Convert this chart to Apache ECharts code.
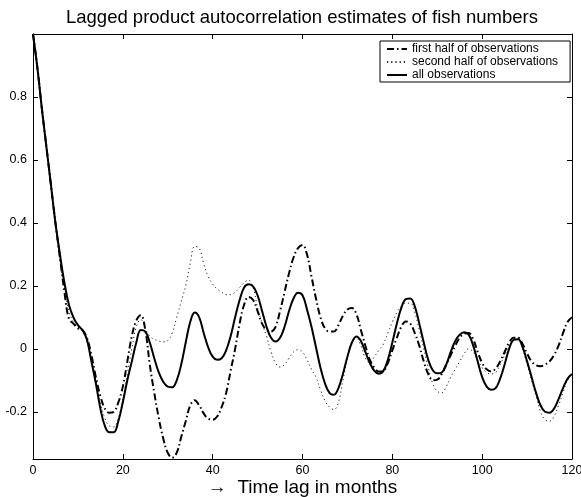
<!DOCTYPE html>
<html>
<head>
<meta charset="utf-8">
<script src="https://cdn.jsdelivr.net/npm/echarts@6/dist/echarts.min.js"></script>
<style>
html,body{margin:0;padding:0;background:#fff;}
#chart{width:581px;height:497px;}
</style>
</head>
<body>
<div id="chart"></div>
<script>
// Lag in months (sampling grid 0..120)
var lags = [];
for (var i = 0; i <= 120; i++) lags.push(i);

var titleText = 'Lagged product autocorrelation estimates of fish numbers';
var xName = '\u2192  Time lag in months';
var seriesNames = ['first half of observations', 'second half of observations', 'all observations'];
var xTicks = [0, 20, 40, 60, 80, 100, 120];
var yTicks = [-0.2, 0, 0.2, 0.4, 0.6, 0.8];

var firstHalf = [
 1.0, 0.89, 0.76, 0.64, 0.52, 0.40, 0.29, 0.18, 0.095, 0.08,
 0.065, 0.06, 0.035, -0.02, -0.09, -0.15, -0.19, -0.203, -0.2, -0.17,
 -0.12, -0.04, 0.04, 0.09, 0.107, 0.06, -0.05, -0.14, -0.22, -0.285,
 -0.33, -0.346, -0.33, -0.28, -0.23, -0.18, -0.163, -0.18, -0.205, -0.222,
 -0.225, -0.215, -0.185, -0.14, -0.07, 0.0, 0.08, 0.14, 0.165, 0.155,
 0.12, 0.08, 0.06, 0.055, 0.07, 0.12, 0.18, 0.24, 0.29, 0.32,
 0.33, 0.30, 0.23, 0.16, 0.10, 0.065, 0.055, 0.055, 0.075, 0.105,
 0.125, 0.13, 0.11, 0.06, 0.01, -0.035, -0.06, -0.072, -0.07, -0.045,
 -0.005, 0.035, 0.07, 0.087, 0.08, 0.05, 0.01, -0.04, -0.08, -0.10,
 -0.098, -0.08, -0.05, -0.02, 0.01, 0.035, 0.048, 0.05, 0.03, -0.01,
 -0.045, -0.065, -0.072, -0.063, -0.04, -0.01, 0.02, 0.035, 0.035, 0.015,
 -0.015, -0.04, -0.052, -0.055, -0.05, -0.04, -0.02, 0.01, 0.05, 0.085,
 0.10
];

var secondHalf = [
 1.0, 0.88, 0.75, 0.63, 0.51, 0.39, 0.28, 0.19, 0.12, 0.085,
 0.07, 0.055, 0.025, -0.035, -0.10, -0.17, -0.22, -0.245, -0.248, -0.22,
 -0.16, -0.08, 0.0, 0.07, 0.093, 0.065, 0.04, 0.03, 0.025, 0.022,
 0.026, 0.05, 0.10, 0.15, 0.20, 0.27, 0.325, 0.32, 0.27, 0.23,
 0.205, 0.19, 0.18, 0.172, 0.172, 0.18, 0.195, 0.21, 0.218, 0.195,
 0.13, 0.08, 0.04, -0.01, -0.045, -0.058, -0.05, -0.03, -0.01, -0.003,
 -0.01, -0.035, -0.065, -0.09, -0.13, -0.165, -0.185, -0.193, -0.17, -0.10,
 -0.03, 0.02, 0.033, 0.01, -0.03, -0.045, -0.025, -0.005, 0.015, 0.05,
 0.085, 0.115, 0.135, 0.145, 0.145, 0.115, 0.06, 0.0, -0.06, -0.11,
 -0.135, -0.14, -0.12, -0.09, -0.065, -0.04, -0.015, 0.0, -0.01, -0.035,
 -0.06, -0.075, -0.08, -0.075, -0.05, -0.02, 0.01, 0.03, 0.035, 0.0,
 -0.05, -0.10, -0.15, -0.20, -0.225, -0.23, -0.215, -0.18, -0.14, -0.10,
 -0.09
];

var allObs = [
 1.0, 0.89, 0.76, 0.64, 0.52, 0.40, 0.30, 0.21, 0.14, 0.10,
 0.075, 0.06, 0.03, -0.04, -0.11, -0.19, -0.245, -0.265, -0.265, -0.23,
 -0.17, -0.10, -0.04, 0.02, 0.06, 0.055, 0.02, -0.03, -0.075, -0.105,
 -0.12, -0.122, -0.10, -0.05, 0.02, 0.085, 0.115, 0.10, 0.05, 0.005,
 -0.025, -0.035, -0.03, -0.005, 0.04, 0.10, 0.155, 0.195, 0.205, 0.198,
 0.17, 0.12, 0.07, 0.035, 0.023, 0.035, 0.07, 0.12, 0.16, 0.178,
 0.17, 0.125, 0.07, 0.005, -0.06, -0.11, -0.14, -0.146, -0.125, -0.08,
 -0.025, 0.02, 0.039, 0.025, -0.01, -0.045, -0.07, -0.079, -0.07, -0.035,
 0.02, 0.08, 0.13, 0.158, 0.16, 0.135, 0.08, 0.02, -0.035, -0.068,
 -0.078, -0.075, -0.05, -0.01, 0.025, 0.045, 0.053, 0.045, 0.01, -0.04,
 -0.09, -0.12, -0.13, -0.125, -0.095, -0.05, 0.0, 0.028, 0.03, 0.005,
 -0.04, -0.09, -0.14, -0.18, -0.20, -0.203, -0.19, -0.16, -0.125, -0.095,
 -0.08
];

function pairs(vals) {
  return lags.map(function (l, i) { return [l, vals[i]]; });
}

var FONT = '"Liberation Sans", Arial, Helvetica, sans-serif';
var chart = echarts.init(document.getElementById('chart'), null, {renderer: 'canvas'});

var axisLineStyle = {show: true, onZero: false, lineStyle: {color: '#000', width: 1}};
var tickStyle = {show: true, inside: true, length: 5, lineStyle: {color: '#000', width: 1}};

chart.setOption({
  animation: false,
  backgroundColor: '#fff',
  title: {
    text: titleText,
    left: 297,
    top: 3,
    textAlign: 'center',
    textStyle: {fontFamily: FONT, fontSize: 18.5, fontWeight: 'normal', color: '#000'}
  },
  legend: {
    orient: 'vertical',
    left: 380,
    top: 41,
    padding: [2, 12, 1, 6],
    itemGap: 1,
    itemWidth: 20,
    itemHeight: 12,
    borderColor: '#000',
    borderWidth: 1,
    backgroundColor: '#fff',
    itemStyle: {color: 'transparent', borderColor: 'transparent', borderWidth: 0, opacity: 0},
    textStyle: {fontFamily: FONT, fontSize: 12, color: '#000', lineHeight: 12},
    data: seriesNames
  },
  grid: {left: 33, right: 9, top: 34, bottom: 38, containLabel: false, outerBoundsMode: 'none'},
  xAxis: [{
    type: 'value', min: 0, max: 120, interval: 20,
    name: xName, nameLocation: 'middle', nameGap: 19, nameMoveOverlap: false,
    nameTextStyle: {fontFamily: FONT, fontSize: 19, color: '#000'},
    axisLine: axisLineStyle, axisTick: tickStyle,
    axisLabel: {fontFamily: FONT, fontSize: 12.5, color: '#000', margin: 5},
    splitLine: {show: false}
  }, {
    type: 'value', min: 0, max: 120, interval: 20, position: 'top',
    axisLine: axisLineStyle, axisTick: tickStyle,
    axisLabel: {show: false}, splitLine: {show: false}
  }],
  yAxis: [{
    type: 'value', min: -0.35, max: 1,
    axisLine: axisLineStyle,
    axisTick: {show: true, inside: true, length: 5, lineStyle: {color: '#000'}, customValues: yTicks},
    axisLabel: {fontFamily: FONT, fontSize: 12.5, color: '#000', margin: 6, customValues: yTicks},
    splitLine: {show: false}
  }, {
    type: 'value', min: -0.35, max: 1, position: 'right',
    axisLine: axisLineStyle,
    axisTick: {show: true, inside: true, length: 5, lineStyle: {color: '#000'}, customValues: yTicks},
    axisLabel: {show: false, customValues: yTicks},
    splitLine: {show: false}
  }],
  series: [{
    name: seriesNames[0], type: 'line', data: pairs(firstHalf),
    showSymbol: false, symbol: 'none', smooth: 0.4,
    lineStyle: {color: '#000', width: 2, type: [7, 3, 1.5, 3]},
    itemStyle: {color: '#000'}, z: 3
  }, {
    name: seriesNames[1], type: 'line', data: pairs(secondHalf),
    showSymbol: false, symbol: 'none', smooth: 0.4,
    lineStyle: {color: '#222', width: 1, type: [1.2, 3]},
    itemStyle: {color: '#222'}, z: 2
  }, {
    name: seriesNames[2], type: 'line', data: pairs(allObs),
    showSymbol: false, symbol: 'none', smooth: 0.4,
    lineStyle: {color: '#000', width: 2, type: 'solid'},
    itemStyle: {color: '#000'}, z: 4
  }]
});
</script>
</body>
</html>
